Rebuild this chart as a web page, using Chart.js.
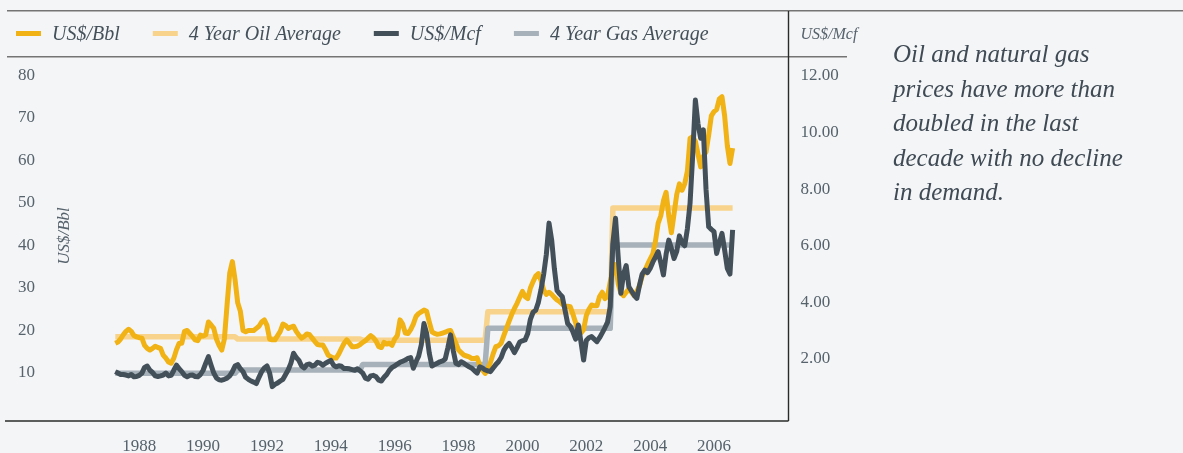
<!DOCTYPE html>
<html>
<head>
<meta charset="utf-8">
<script src="https://cdn.jsdelivr.net/npm/chart.js@4.4.1/dist/chart.umd.min.js"></script>
<style>
html, body { margin: 0; padding: 0; background: #f4f5f7; }
canvas { display: block; }
</style>
</head>
<body>
<canvas id="precios" width="1183" height="453"></canvas>
<script>
// monthly series, first value = April 1987
const firstMonth = [1987, 4];
const oilPrice = [
  17.0, 17.3, 18.0, 19.0, 19.8, 20.3, 19.8, 18.8, 18.5, 18.3,
  18.2, 16.5, 15.8, 15.4, 15.8, 16.3, 16.0, 15.8, 14.2, 13.5,
  12.6, 12.3, 13.5, 15.5, 17.0, 17.0, 19.8, 20.0, 19.3, 18.6,
  17.8, 17.6, 18.9, 18.7, 19.0, 22.0, 21.3, 20.5, 18.0, 16.5,
  15.4, 18.0, 26.0, 33.5, 36.2, 32.0, 26.5, 24.5, 20.0, 19.7,
  20.0, 20.0, 20.0, 20.5, 21.0, 22.0, 22.5, 21.2, 18.0, 17.8,
  17.8, 18.8, 19.8, 21.5, 21.2, 20.5, 20.8, 21.0, 19.8, 18.9,
  18.2, 18.6, 19.2, 19.0, 18.2, 17.4, 16.7, 16.6, 16.6, 15.5,
  14.2, 13.8, 13.5, 13.5, 14.5, 15.8, 17.0, 17.8, 17.0, 16.2,
  16.2, 16.3, 16.7, 17.2, 17.6, 18.2, 18.8, 18.3, 17.5, 16.2,
  16.0, 17.2, 16.8, 17.0, 16.5, 18.0, 18.8, 22.5, 21.5, 19.4,
  19.3, 20.2, 21.5, 23.3, 24.0, 24.4, 24.8, 24.5, 22.0, 19.7,
  19.3, 19.1, 19.2, 19.4, 19.6, 19.9, 20.0, 18.5, 17.0, 15.4,
  14.8, 14.2, 14.0, 13.8, 13.4, 13.4, 13.6, 11.8, 10.7, 9.9,
  11.0, 12.5, 14.5, 16.2, 16.4, 17.0, 18.8, 20.5, 22.2, 23.8,
  25.2, 26.4, 27.8, 29.2, 28.0, 27.5, 30.0, 31.5, 32.8, 33.4,
  31.8, 29.5, 28.5, 29.0, 28.5, 27.8, 27.2, 26.8, 26.2, 25.6,
  25.7, 25.6, 23.8, 21.8, 20.0, 19.4, 20.2, 23.5, 25.0, 26.0,
  25.8, 25.8, 28.0, 29.0, 27.5, 28.0, 31.5, 34.0, 35.5, 31.0,
  28.8, 28.2, 29.0, 29.8, 29.0, 28.2, 29.2, 30.5, 32.8, 34.0,
  35.5, 36.8, 38.0, 41.0, 45.2, 47.0, 50.5, 52.5, 47.0, 43.0,
  47.5, 52.0, 54.5, 53.0, 54.5, 57.5, 65.2, 65.6, 64.5, 61.5,
  58.5, 61.0, 62.0, 66.0, 70.5, 71.5, 72.0, 74.5, 75.0, 70.5,
  63.5, 59.3, 62.9
];
const gasPrice = [
  1.55, 1.50, 1.45, 1.45, 1.43, 1.40, 1.45, 1.37, 1.38, 1.42,
  1.50, 1.70, 1.75, 1.60, 1.52, 1.40, 1.38, 1.40, 1.43, 1.50,
  1.40, 1.42, 1.60, 1.78, 1.65, 1.55, 1.42, 1.37, 1.42, 1.43,
  1.38, 1.37, 1.45, 1.60, 1.85, 2.08, 1.78, 1.50, 1.33, 1.26,
  1.25, 1.28, 1.32, 1.40, 1.55, 1.75, 1.80, 1.65, 1.55, 1.35,
  1.28, 1.22, 1.18, 1.13, 1.35, 1.55, 1.68, 1.75, 1.50, 1.02,
  1.10, 1.15, 1.22, 1.28, 1.45, 1.62, 1.85, 2.20, 2.05, 1.95,
  1.75, 1.68, 1.80, 1.82, 1.75, 1.78, 1.88, 1.85, 1.78, 1.85,
  1.90, 1.95, 1.78, 1.72, 1.76, 1.74, 1.66, 1.66, 1.65, 1.62,
  1.60, 1.65, 1.58, 1.50, 1.32, 1.28, 1.40, 1.42, 1.37, 1.25,
  1.22, 1.35, 1.45, 1.60, 1.70, 1.75, 1.82, 1.88, 1.92, 1.96,
  2.02, 2.05, 1.67, 1.90, 2.10, 2.50, 3.25, 2.90, 2.20, 1.75,
  1.80, 1.85, 1.90, 1.93, 2.00, 2.40, 2.85, 2.30, 1.85, 1.80,
  1.90, 1.85, 1.78, 1.72, 1.67, 1.58, 1.50, 1.72, 1.68, 1.61,
  1.58, 1.55, 1.68, 1.80, 1.90, 2.05, 2.30, 2.45, 2.55, 2.40,
  2.22, 2.40, 2.60, 2.64, 2.67, 2.90, 3.40, 3.65, 3.72, 4.00,
  4.45, 5.00, 5.70, 6.80, 6.20, 5.20, 4.42, 4.30, 4.20, 3.73,
  3.25, 3.15, 2.95, 2.70, 3.20, 2.60, 1.96, 2.65, 2.75, 2.79,
  2.70, 2.61, 2.75, 2.92, 3.10, 3.30, 3.85, 6.10, 6.97, 5.60,
  4.32, 5.00, 5.30, 4.55, 4.40, 4.25, 4.14, 4.60, 5.00, 5.14,
  5.05, 5.20, 5.42, 5.60, 5.79, 5.40, 4.97, 5.70, 6.20, 5.90,
  5.55, 5.80, 6.35, 6.10, 6.00, 6.60, 7.50, 9.20, 11.15, 10.30,
  9.80, 10.10, 8.00, 6.67, 6.58, 6.50, 5.73, 6.10, 6.44, 5.85,
  5.20, 5.00, 6.56
];
// 4 year averages, one value per period
const periodStarts = ['1987-04', '1991-02', '1995-01', '1998-12', '2002-11'];
const oilAverage = [18.5, 18.0, 17.7, 24.4, 48.8];
const gasAverage = [1.49, 1.61, 1.80, 3.08, 6.03];

const oilTicks = [10, 20, 30, 40, 50, 60, 70, 80];
const gasTicks = [2, 4, 6, 8, 10, 12];
const nota = ['Oil and natural gas', 'prices have more than', 'doubled in the last', 'decade with no decline', 'in demand.'];
const mesesExtra = 21; // empty months after the data, up to the right axis

const meses = [];
for (let k = 0; k < oilPrice.length + mesesExtra; k++) {
  const m = firstMonth[1] - 1 + k;
  meses.push((firstMonth[0] + Math.floor(m / 12)) + '-' + String(m % 12 + 1).padStart(2, '0'));
}
function promedio(valores) {
  return meses.slice(0, oilPrice.length).map(m => {
    let p = 0;
    periodStarts.forEach((s, j) => { if (m >= s) p = j; });
    return valores[p];
  });
}

const serif = "'Liberation Serif', 'Times New Roman', serif";
const gris = '#56626c';

const decor = {
  id: 'decor',
  afterDraw(chart) {
    const ctx = chart.ctx;
    const a = chart.chartArea;
    const linea = (x1, y1, x2, y2) => { ctx.beginPath(); ctx.moveTo(x1, y1); ctx.lineTo(x2, y2); ctx.stroke(); };
    ctx.save();
    ctx.strokeStyle = '#747474';
    ctx.lineWidth = 1.5;
    linea(7, 10.7, 1183, 10.7);
    linea(7, 56.7, 847, 56.7);
    ctx.strokeStyle = '#2a2a2a';
    ctx.lineWidth = 1.4;
    linea(a.right, 11, a.right, a.bottom);
    linea(5, a.bottom, a.right, a.bottom);

    // legend
    ctx.font = 'italic 20px ' + serif;
    ctx.textBaseline = 'alphabetic';
    ctx.textAlign = 'left';
    let x = 16;
    chart.data.datasets.forEach(ds => {
      ctx.fillStyle = ds.borderColor;
      ctx.fillRect(x, 31, 25, 5);
      ctx.fillStyle = '#44505a';
      ctx.fillText(ds.label, x + 36, 40);
      x += 36 + ctx.measureText(ds.label).width + 33;
    });

    // axis titles
    ctx.fillStyle = gris;
    ctx.font = 'italic 16px ' + serif;
    ctx.fillText('US$/Mcf', a.right + 12, 39);
    ctx.save();
    ctx.translate(65, 236);
    ctx.rotate(-Math.PI / 2);
    ctx.textAlign = 'center';
    ctx.textBaseline = 'middle';
    ctx.font = 'italic 17px ' + serif;
    ctx.fillText('US$/Bbl', 0, 0);
    ctx.restore();

    // note
    ctx.fillStyle = '#3f4a54';
    ctx.font = 'italic 25px ' + serif;
    nota.forEach((t, i) => ctx.fillText(t, 893, 62 + i * 34.5));
    ctx.restore();
  }
};

new Chart(document.getElementById('precios'), {
  type: 'line',
  data: {
    labels: meses,
    datasets: [
      { label: 'US$/Bbl', data: oilPrice, yAxisID: 'yOil', borderColor: '#f0b214', borderWidth: 5, order: 2 },
      { label: '4 Year Oil Average', data: promedio(oilAverage), yAxisID: 'yOil', borderColor: '#f8d38c', borderWidth: 5.5, order: 4 },
      { label: 'US$/Mcf', data: gasPrice, yAxisID: 'yGas', borderColor: '#43505a', borderWidth: 5, order: 1 },
      { label: '4 Year Gas Average', data: promedio(gasAverage), yAxisID: 'yGas', borderColor: '#a6b1b9', borderWidth: 5.5, order: 3 }
    ]
  },
  options: {
    responsive: false,
    animation: false,
    events: [],
    layout: { padding: { top: 57, left: 18, right: 0, bottom: 0 } },
    elements: {
      point: { radius: 0 },
      line: { tension: 0, borderJoinStyle: 'round', fill: false }
    },
    plugins: { legend: { display: false }, tooltip: { enabled: false } },
    scales: {
      x: {
        type: 'category',
        offset: false,
        grid: { display: false, drawTicks: false },
        border: { display: false },
        ticks: {
          autoSkip: false,
          maxRotation: 0,
          padding: 15,
          color: gris,
          font: { family: serif, size: 17 },
          callback: function(value) {
            if (value >= oilPrice.length) return null;
            const m = meses[value];
            const y = +m.slice(0, 4);
            return (m.slice(5) === '01' && y % 2 === 0) ? String(y) : null;
          }
        },
        afterFit(s) { s.height = 32; }
      },
      yOil: {
        position: 'left',
        min: -1.294,
        max: 84.35,
        grid: { display: false, drawTicks: false },
        border: { display: false },
        ticks: { padding: 0, crossAlign: 'far', color: gris, font: { family: serif, size: 17 } },
        afterBuildTicks(s) { s.ticks = oilTicks.map(v => ({ value: v })); },
        afterFit(s) { s.width = 97.3; }
      },
      yGas: {
        position: 'right',
        min: -0.194,
        max: 12.672,
        grid: { display: false, drawTicks: false },
        border: { display: false },
        ticks: {
          padding: 12,
          color: gris,
          font: { family: serif, size: 17 },
          callback: v => v.toFixed(2)
        },
        afterBuildTicks(s) { s.ticks = gasTicks.map(v => ({ value: v })); },
        afterFit(s) { s.width = 394.5; }
      }
    }
  },
  plugins: [decor]
});
</script>
</body>
</html>
